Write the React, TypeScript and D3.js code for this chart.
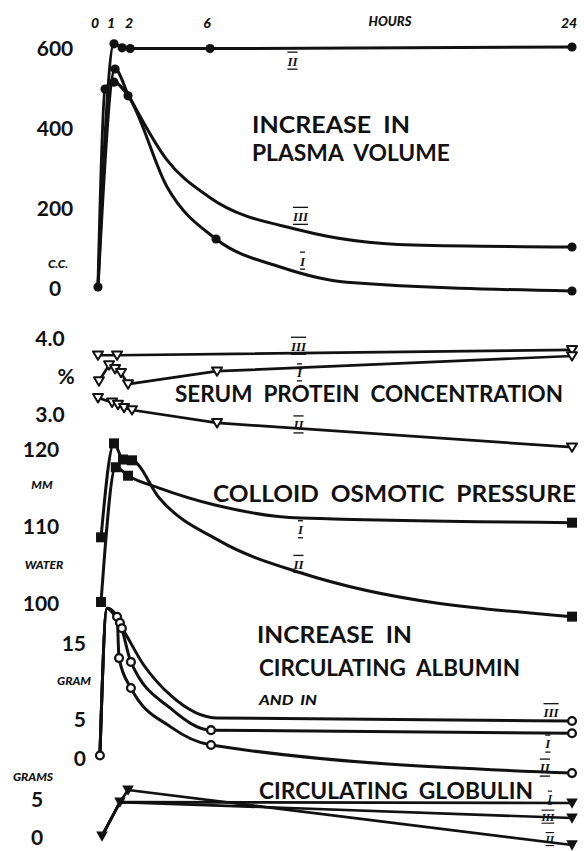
import React from "react";
import * as d3 from "d3";

type Pt = [number, number, number]; // [hour, value, marker drawn (1) or not (0)]

// ---- hour axis ----
const hourTicks = [0, 1, 2, 6, 24];
const hourTickLabels = ["0", "1", "2", "6", "24"];

// ---- plasma volume (c.c.) ----
const plasmaTicks = [0, 200, 400, 600];
const plasmaII: Pt[] = [[0, 0, 1], [1.0, 608, 1], [1.45, 598, 1], [1.9, 596, 1], [6, 596, 1], [24, 600, 1]];
const plasmaIII: Pt[] = [[0, 0, 0], [1.06, 545, 1], [1.78, 482, 0], [3.8, 317, 0], [5.95, 225, 0], [10.5, 142, 0], [16.1, 105, 0], [24, 100, 1]];
const plasmaI: Pt[] = [[0, 0, 0], [0.44, 495, 1], [1.0, 512, 1], [1.78, 478, 1], [3.8, 250, 0], [6.3, 120, 1], [9.5, 50, 0], [12.8, 12, 0], [24, -10, 1]];

// ---- serum protein concentration (%) ----
const serumTicks = [3.0, 4.0];
const serumTickLabels = ["3.0", "4.0"];
const serumIII: Pt[] = [[0, 3.76, 1], [1.17, 3.76, 1], [24, 3.83, 1]];
const serumI: Pt[] = [[0.06, 3.42, 1], [0.69, 3.63, 1], [1.06, 3.58, 1], [1.39, 3.53, 1], [1.78, 3.38, 1], [6.35, 3.55, 1], [24, 3.75, 1]];
const serumII: Pt[] = [[0, 3.2, 1], [0.88, 3.14, 1], [1.22, 3.11, 1], [1.56, 3.07, 1], [2.0, 3.04, 1], [6.35, 2.87, 1], [24, 2.55, 1]];

// ---- colloid osmotic pressure (mm water) ----
const colloidTicks = [100, 110, 120];
const colloidI: Pt[] = [[0.19, 100, 1], [1.1, 117.5, 1], [1.78, 116.4, 1], [3.4, 114.8, 0], [6.25, 112.6, 0], [10.5, 110.9, 0], [24, 110.3, 1]];
const colloidII: Pt[] = [[0.19, 108.4, 1], [1.0, 120.6, 1], [1.5, 118.5, 1], [2.0, 118.4, 1], [3.4, 113.5, 0], [6.5, 107.9, 0], [10.5, 103.8, 0], [24, 98.1, 1]];

// ---- circulating albumin (gram) ----
const albuminTicks = [0, 5, 15];
const albuminII: Pt[] = [[0.12, 0.2, 1], [0.56, 19.4, 0], [1.17, 18.3, 1], [1.28, 12.9, 1], [1.94, 9.0, 1], [4.0, 3.9, 0], [6.05, 1.56, 1], [24, -2.1, 1]];
const albuminI: Pt[] = [[0.12, 0.2, 0], [0.56, 19.4, 0], [1.33, 17.5, 1], [1.94, 12.4, 1], [4.0, 6.3, 0], [6.05, 3.5, 1], [24, 3.1, 1]];
const albuminIII: Pt[] = [[0.12, 0.2, 0], [0.56, 19.4, 0], [1.44, 16.8, 1], [2.6, 12.0, 0], [4.0, 8.0, 0], [6.3, 5.1, 0], [24, 4.7, 1]];

// ---- circulating globulin (grams) ----
const globulinTicks = [0, 5];
const globulinI: Pt[] = [[0.25, 0, 1], [1.33, 4.47, 1], [24, 4.34, 1]];
const globulinIII: Pt[] = [[0.25, 0, 0], [1.33, 4.47, 0], [24, 2.37, 1]];
const globulinII: Pt[] = [[0.25, 0, 0], [1.33, 4.47, 0], [1.78, 6.05, 1], [24, -1.18, 1]];

const INK = "#111";
const SANS = "Lato, 'Open Sans', 'DejaVu Sans', sans-serif";
const ROMAN = "'Liberation Serif', 'DejaVu Serif', serif";

function marker(kind: string, cx: number, cy: number, key: string) {
  switch (kind) {
    case "dot":
      return <circle key={key} cx={cx} cy={cy} r={4.6} fill={INK} />;
    case "ring":
      return <circle key={key} cx={cx} cy={cy} r={3.9} fill="#fff" stroke={INK} strokeWidth={2.3} />;
    case "square":
      return <rect key={key} x={cx - 5} y={cy - 5} width={10} height={10} fill={INK} />;
    case "tri":
      return (
        <path key={key} d={`M${cx - 5},${cy - 3.8}L${cx + 5},${cy - 3.8}L${cx},${cy + 4.6}Z`}
          fill="#fff" stroke={INK} strokeWidth={2} strokeLinejoin="round" />
      );
    default:
      return <path key={key} d={`M${cx - 5.8},${cy - 4.6}L${cx + 5.8},${cy - 4.6}L${cx},${cy + 5.8}Z`} fill={INK} />;
  }
}

export default function App() {
  const W = 584, H = 851;
  const x = d3.scaleLinear().domain(hourTicks).range([98, 114, 132, 210, 572]);
  const yPlasma = d3.scaleLinear().domain([0, 600]).range([287, 47]);
  const ySerum = d3.scaleLinear().domain([3, 4]).range([413, 337]);
  const yColloid = d3.scaleLinear().domain([100, 120]).range([602, 448]);
  const yAlb = d3.scaleLinear().domain([0, 15]).range([757, 642]);
  const yGlob = d3.scaleLinear().domain([0, 5]).range([836, 798]);

  const smooth = d3.curveMonotoneX;
  const straight = d3.curveLinear;

  const series = [
    { id: "pII", data: plasmaII, y: yPlasma, curve: smooth, kind: "dot", w: 3 },
    { id: "pIII", data: plasmaIII, y: yPlasma, curve: smooth, kind: "dot", w: 3 },
    { id: "pI", data: plasmaI, y: yPlasma, curve: smooth, kind: "dot", w: 3 },
    { id: "sIII", data: serumIII, y: ySerum, curve: straight, kind: "tri", w: 2.7 },
    { id: "sI", data: serumI, y: ySerum, curve: straight, kind: "tri", w: 2.7 },
    { id: "sII", data: serumII, y: ySerum, curve: straight, kind: "tri", w: 2.7 },
    { id: "cI", data: colloidI, y: yColloid, curve: smooth, kind: "square", w: 3 },
    { id: "cII", data: colloidII, y: yColloid, curve: smooth, kind: "square", w: 3 },
    { id: "aII", data: albuminII, y: yAlb, curve: smooth, kind: "ring", w: 3 },
    { id: "aI", data: albuminI, y: yAlb, curve: smooth, kind: "ring", w: 3 },
    { id: "aIII", data: albuminIII, y: yAlb, curve: smooth, kind: "ring", w: 3 },
    { id: "gI", data: globulinI, y: yGlob, curve: straight, kind: "ftri", w: 2.7 },
    { id: "gIII", data: globulinIII, y: yGlob, curve: straight, kind: "ftri", w: 2.7 },
    { id: "gII", data: globulinII, y: yGlob, curve: straight, kind: "ftri", w: 2.7 },
  ];

  // roman series labels, placed in data units [text, hour, value, scale, font size]
  const romans: [string, number, number, d3.ScaleLinear<number, number>, number][] = [
    ["II", 10.1, 565, yPlasma, 13], ["III", 10.5, 177, yPlasma, 13], ["I", 10.6, 65, yPlasma, 13],
    ["III", 10.4, 3.88, ySerum, 13], ["I", 10.45, 3.53, ySerum, 13], ["II", 10.4, 2.845, ySerum, 13],
    ["I", 10.5, 109.4, yColloid, 13], ["II", 10.4, 104.9, yColloid, 13],
    ["III", 22.96, 5.8, yAlb, 13], ["I", 22.8, 1.7, yAlb, 13], ["II", 22.65, -1.43, yAlb, 13],
    ["I", 22.9, 5.05, yGlob, 11], ["III", 22.8, 2.55, yGlob, 11], ["II", 22.9, -0.4, yGlob, 11],
  ];

  const num = (t: string, cx: number, cy: number, anchor = "middle", key?: string) => (
    <text key={key ?? t + cy} x={cx} y={cy} textAnchor={anchor} dominantBaseline="central"
      fontFamily={SANS} fontWeight={700} fontSize={21} fill={INK}>{t}</text>
  );
  const small = (t: string, cx: number, cy: number, key?: string, size = 13) => (
    <text key={key ?? t + cy} x={cx} y={cy} textAnchor="middle" dominantBaseline="central"
      fontFamily={SANS} fontWeight={900} fontStyle="italic" fontSize={size} fill={INK}>{t}</text>
  );
  const title = (t: string, x0: number, cy: number, len: number) => (
    <text key={t + cy} x={x0} y={cy} dominantBaseline="central" fontFamily={SANS} fontWeight={700}
      fontSize={22} fill={INK} textLength={len} lengthAdjust="spacingAndGlyphs"
      style={{ whiteSpace: "pre" }}>{t}</text>
  );

  return (
    <svg width={W} height={H} viewBox={`0 0 ${W} ${H}`}
      style={{ position: "absolute", left: 0, top: 0, background: "#fff" }}>
      <rect width={W} height={H} fill="#fff" />

      {/* hour axis labels */}
      {hourTicks.map((h, i) => small(hourTickLabels[i], x(h) - 3, 22, "h" + i, 14))}
      {small("HOURS", 390, 21, "hours", 13)}

      {/* y tick labels */}
      {plasmaTicks.map((v) => num(String(v), 55, yPlasma(v), "middle", "p" + v))}
      {small("C.C.", 58, yPlasma(60), "cc", 12)}
      {serumTicks.map((v, i) => num(serumTickLabels[i], 50, ySerum(v), "middle", "s" + v))}
      {num("%", 66, ySerum(3.5), "middle", "pct")}
      {colloidTicks.map((v) => num(String(v), 41, yColloid(v), "middle", "c" + v))}
      {small("MM", 42, yColloid(115.2), "mm", 12)}
      {small("WATER", 44, yColloid(104.9), "water", 12)}
      {albuminTicks.map((v) => num(String(v), 86, yAlb(v), "end", "a" + v))}
      {small("GRAM", 74, yAlb(10), "gram", 12)}
      {globulinTicks.map((v) => num(String(v), 37, yGlob(v), "middle", "g" + v))}
      {small("GRAMS", 33, yGlob(7.8), "grams", 12)}

      {/* titles */}
      {title("INCREASE  IN", 252, 124, 158)}
      {title("PLASMA  VOLUME", 252, 152, 198)}
      {title("SERUM  PROTEIN  CONCENTRATION", 175, 393, 388)}
      {title("COLLOID  OSMOTIC  PRESSURE", 213, 493, 363)}
      {title("INCREASE  IN", 257, 634, 155)}
      {title("CIRCULATING  ALBUMIN", 259, 667, 261)}
      <text x={259} y={700} dominantBaseline="central" fontFamily={SANS} fontWeight={900}
        fontStyle="italic" fontSize={13} fill={INK} textLength={58} lengthAdjust="spacingAndGlyphs"
        style={{ whiteSpace: "pre" }}>AND  IN</text>
      {title("CIRCULATING  GLOBULIN", 259, 790, 274)}

      {/* lines */}
      {series.map((s) => {
        const line = d3.line<Pt>().x((d) => x(d[0])).y((d) => s.y(d[1])).curve(s.curve);
        return <path key={s.id} d={line(s.data) ?? ""} fill="none" stroke={INK} strokeWidth={s.w}
          strokeLinejoin="round" strokeLinecap="round" />;
      })}

      {/* markers */}
      {series.map((s) => (
        <g key={s.id + "m"}>
          {s.data.filter((d) => d[2] === 1).map((d, i) => marker(s.kind, x(d[0]), s.y(d[1]), s.id + i))}
        </g>
      ))}

      {/* roman numeral series labels */}
      {romans.map(([t, h, v, sc, fs], i) => (
        <text key={"r" + i} x={x(h)} y={sc(v)} textAnchor="middle" dominantBaseline="central"
          fontFamily={ROMAN} fontWeight={700} fontStyle="italic" fontSize={fs} fill={INK}
          textDecoration="underline overline">{t}</text>
      ))}
    </svg>
  );
}
